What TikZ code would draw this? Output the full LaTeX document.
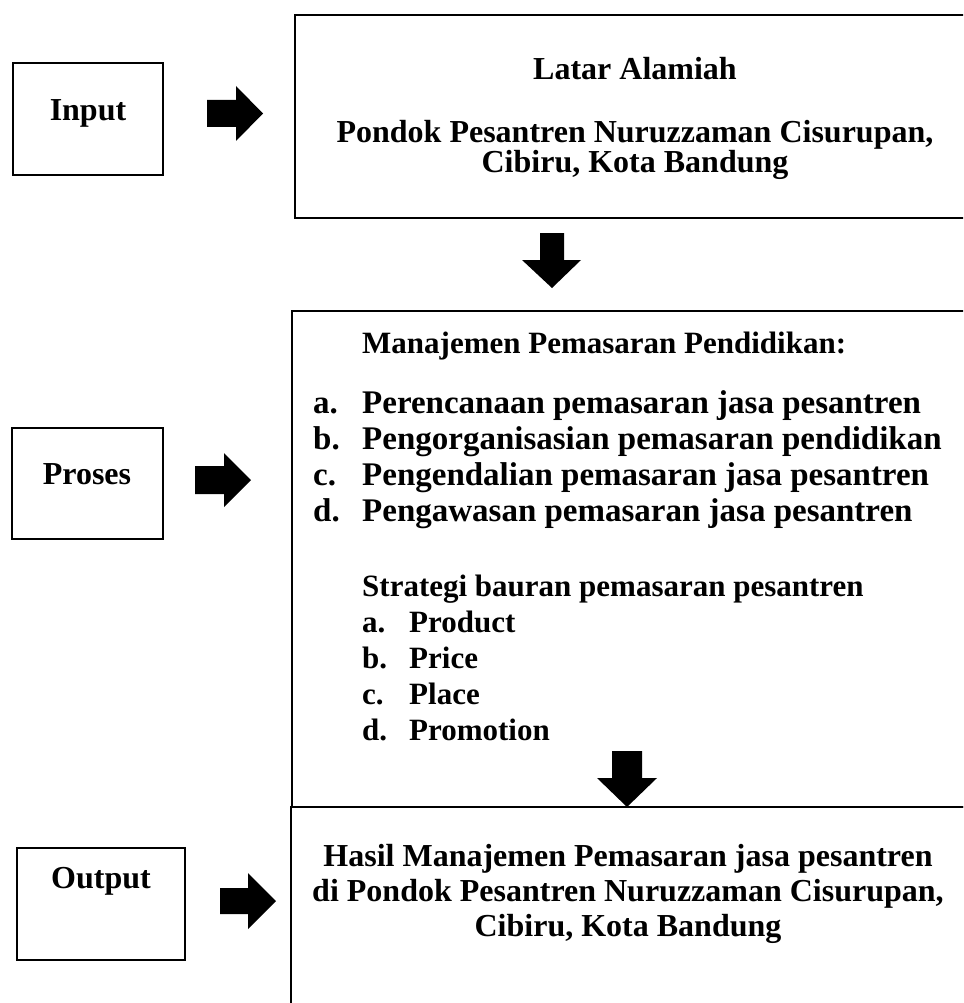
\documentclass[tikz,border=0pt]{standalone}
\usepackage{fontspec}
\setmainfont{Liberation Serif}
\begin{document}
\begin{tikzpicture}[x=1pt,y=-1pt,
  box/.style={draw=black, line width=1.7pt, fill=none},
  txt/.style={font=\fontsize{31}{37}\selectfont\bfseries, inner sep=0pt},
  bigtxt/.style={font=\fontsize{32}{38}\selectfont\bfseries, inner sep=0pt},
  ltxt/.style={txt, anchor=base west},
  listtxt/.style={font=\fontsize{33}{39}\selectfont\bfseries, inner sep=0pt, anchor=base west},
  blockarrow/.style={fill=black, draw=none}]
\useasboundingbox (0,0) rectangle (963,1003);
\begin{scope}
\clip (0,0) rectangle (963,1003);
% left label boxes
\draw[box] (13,63) rectangle (163,175) coordinate (inputbox);
\node[bigtxt, anchor=base] (input) at (88,121) {Input};
\draw[box] (12,428) rectangle (163,539) coordinate (prosesbox);
\node[bigtxt, anchor=base] (proses) at (87,484) {Proses};
\draw[box] (17,848) rectangle (185,960) coordinate (outputbox);
\node[bigtxt, anchor=base] (output) at (101,888) {Output};
% right arrows
\fill[blockarrow] (207,100) -- (236,100) -- (236,86) -- (263,113.5) -- (236,141) -- (236,127) -- (207,127) -- cycle;
\fill[blockarrow] (195,466) -- (224,466) -- (224,453) -- (251,480) -- (224,507) -- (224,494) -- (195,494) -- cycle;
\fill[blockarrow] (220,888) -- (248,888) -- (248,873) -- (276,901) -- (248,929) -- (248,914) -- (220,914) -- cycle;
% top box
\draw[box] (295,15) rectangle (980,218);
\node[bigtxt, anchor=base] (latar) at (635,80) {Latar Alamiah};
\node[bigtxt, anchor=base] (pondok) at (635,143) {Pondok Pesantren Nuruzzaman Cisurupan,};
\node[bigtxt, anchor=base] (cibiru) at (635,173) {Cibiru, Kota Bandung};
% down arrow 1
\fill[blockarrow] (540,233) -- (564,233) -- (564,260) -- (581,260) -- (552,288) -- (522,260) -- (540,260) -- cycle;
% process box
\draw[box] (292,311) rectangle (980,807);
\node[ltxt] (mp) at (362,353) {Manajemen Pemasaran Pendidikan:};
\node[listtxt] (la) at (313,413) {a.};
\node[listtxt] (ta) at (362,413) {Perencanaan pemasaran jasa pesantren};
\node[listtxt] (lb) at (313,449) {b.};
\node[listtxt] (tb) at (362,449) {Pengorganisasian pemasaran pendidikan};
\node[listtxt] (lc) at (313,485) {c.};
\node[listtxt] (tc) at (362,485) {Pengendalian pemasaran jasa pesantren};
\node[listtxt] (ld) at (313,521) {d.};
\node[listtxt] (td) at (362,521) {Pengawasan pemasaran jasa pesantren};
\node[ltxt] (sb) at (362,596) {Strategi bauran pemasaran pesantren};
\node[ltxt] (sa) at (362,632) {a.};
\node[ltxt] (sat) at (409,632) {Product};
\node[ltxt] (sbb) at (362,668) {b.};
\node[ltxt] (sbt) at (409,668) {Price};
\node[ltxt] (sc) at (362,704) {c.};
\node[ltxt] (sct) at (409,704) {Place};
\node[ltxt] (sd) at (362,740) {d.};
\node[ltxt] (sdt) at (409,740) {Promotion};
% down arrow 2
\fill[blockarrow] (612,751) -- (642,751) -- (642,778) -- (657,778) -- (627,807) -- (597,778) -- (612,778) -- cycle;
% output box
\draw[box] (291,807) rectangle (980,1020);
\node[bigtxt, anchor=base] (h1) at (628,866) {Hasil Manajemen Pemasaran jasa pesantren};
\node[bigtxt, anchor=base] (h2) at (628,901) {di Pondok Pesantren Nuruzzaman Cisurupan,};
\node[bigtxt, anchor=base] (h3) at (628,936) {Cibiru, Kota Bandung};
\end{scope}
\end{tikzpicture}
\end{document}
